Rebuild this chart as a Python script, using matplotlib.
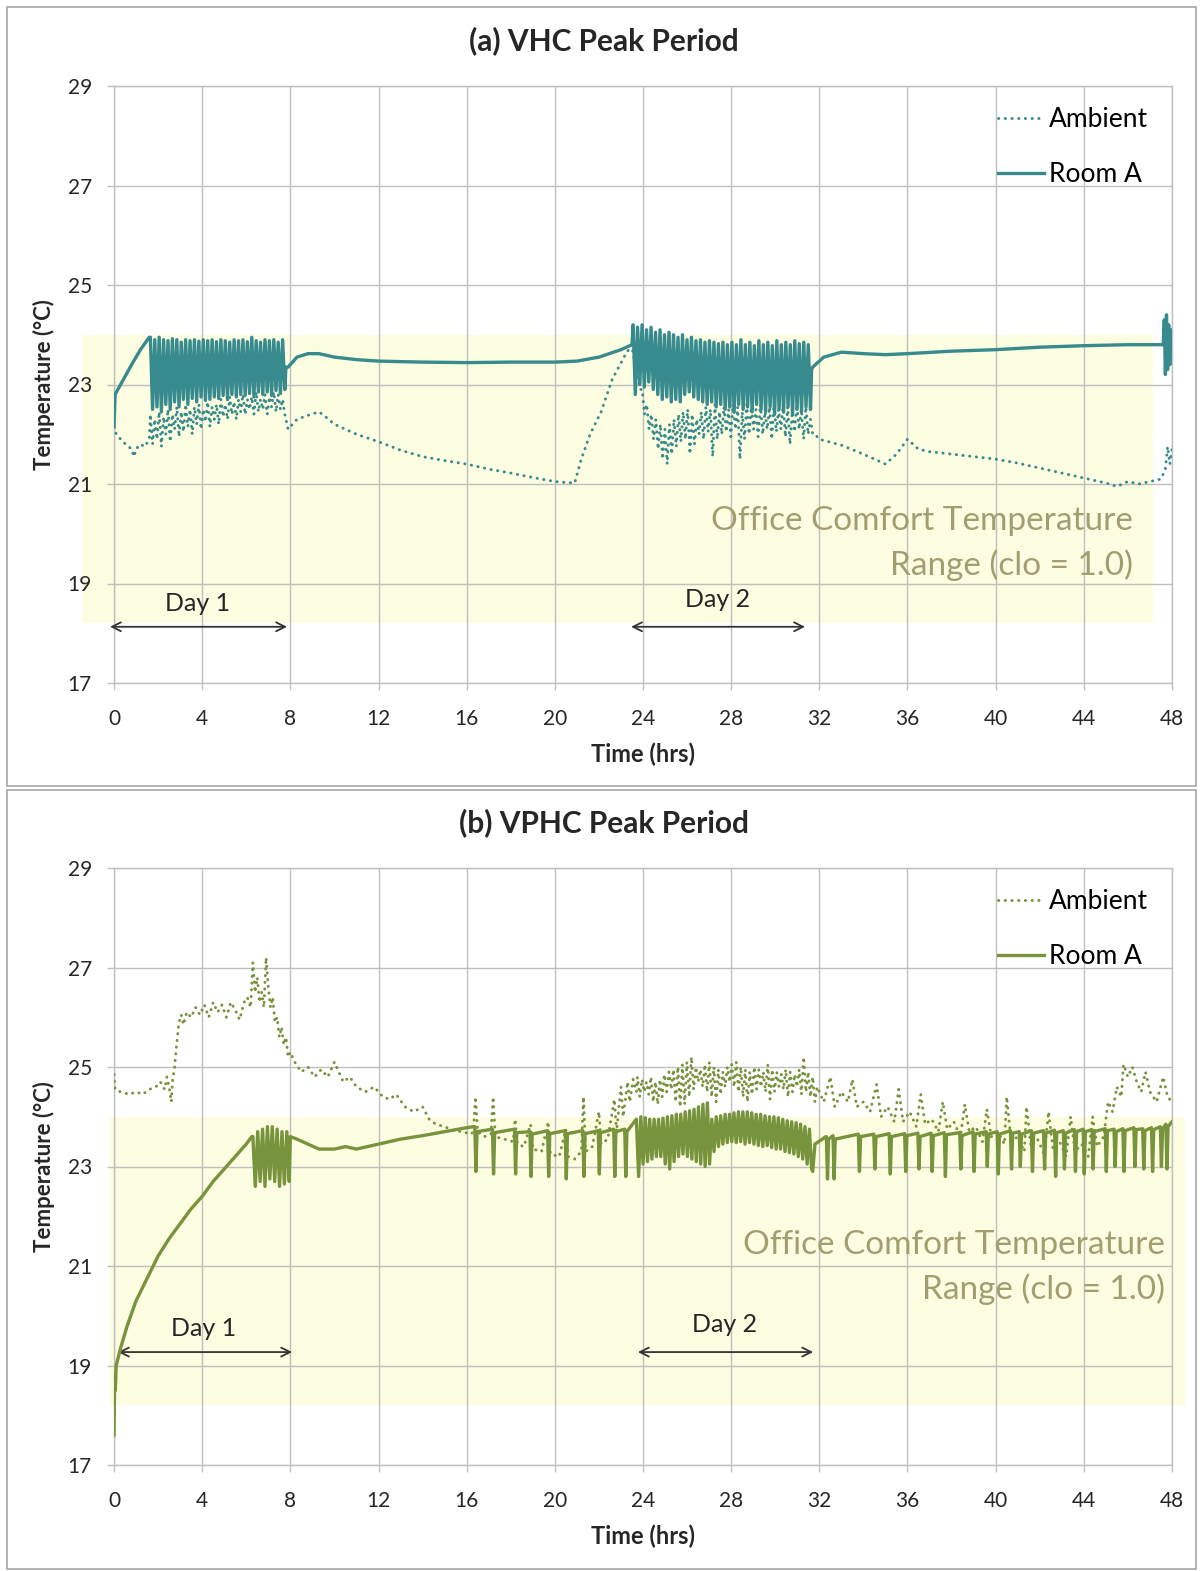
import numpy as np
import matplotlib
matplotlib.use("Agg")
import matplotlib.pyplot as plt
from matplotlib.patches import Rectangle

plt.rcParams['font.family'] = ['Lato', 'DejaVu Sans']

W, H = 1203, 1571

# ---------------- panel (a) VHC ----------------
# room A, smooth parts
room_a_t1 = [0.0, 0.05, 0.3, 0.8, 1.2, 1.6]
room_a_v1 = [22.15, 22.8, 23.0, 23.4, 23.7, 23.95]
# day 1 cycling (highs / lows), 1.65 - 7.75 h
room_a_hi1 = [23.95, 23.9, 23.95, 23.9, 23.88, 23.92, 23.9, 23.85, 23.9, 23.88, 23.9, 23.87, 23.9, 23.88, 23.9, 23.86,
              23.9, 23.88, 23.85, 23.9, 23.88, 23.9, 23.86, 23.95, 23.88, 23.85, 23.9, 23.88, 23.9, 23.85, 23.9]
room_a_lo1 = [22.5, 22.55, 22.45, 22.6, 22.5, 22.65, 22.55, 22.7, 22.6, 22.72, 22.65, 22.75, 22.68, 22.7, 22.75, 22.72,
              22.78, 22.7, 22.8, 22.75, 22.8, 22.78, 22.82, 22.75, 22.85, 22.8, 22.85, 22.78, 22.88, 22.82, 22.9]
room_a_t2 = [7.8, 7.9, 8.3, 8.8, 9.3, 10, 11, 12, 14, 16, 18, 20, 21, 22, 23, 23.5]
room_a_v2 = [23.35, 23.35, 23.55, 23.62, 23.62, 23.55, 23.5, 23.47, 23.45, 23.44, 23.45, 23.45, 23.47, 23.55, 23.7, 23.8]
# day 2 cycling, 23.55 - 31.6 h
room_a_hi2 = [24.2, 24.15, 24.2, 24.1, 24.15, 24.05, 24.1, 24.0, 24.05, 24.0, 23.95, 24.0, 23.9, 23.95, 23.88, 23.9,
              23.85, 23.88, 23.85, 23.82, 23.85, 23.8, 23.85, 23.8, 23.9, 23.8, 23.85, 23.78, 23.88, 23.8, 23.85, 23.78,
              23.88, 23.8, 23.85, 23.8, 23.88, 23.82, 23.85, 23.8]
room_a_lo2 = [22.8, 23.0, 22.95, 23.05, 22.9, 22.8, 22.7, 22.75, 22.65, 22.7, 22.65, 22.8, 22.85, 22.75, 22.7, 22.65,
              22.6, 22.65, 22.55, 22.6, 22.5, 22.55, 22.45, 22.6, 22.5, 22.55, 22.45, 22.6, 22.5, 22.45, 22.55, 22.4,
              22.5, 22.45, 22.55, 22.4, 22.5, 22.45, 22.55, 22.5]
room_a_t3 = [31.65, 31.7, 32.2, 33, 34, 35, 36, 38, 40, 42, 44, 46, 47.6, 47.65, 47.7, 47.75, 47.8, 47.85, 47.9, 47.95, 48.0]
room_a_v3 = [23.3, 23.35, 23.55, 23.65, 23.62, 23.6, 23.62, 23.67, 23.7, 23.75, 23.78, 23.8, 23.8,
             24.3, 23.2, 24.4, 23.3, 24.2, 23.4, 24.1, 23.8]

# ambient
amb_a_t1 = [0.0, 0.1, 0.4, 0.8, 0.9, 1.0, 1.2, 1.4, 1.6]
amb_a_v1 = [22.15, 22.0, 21.85, 21.7, 21.55, 21.7, 21.8, 21.75, 21.9]
amb_a_hi1 = [22.4, 22.3, 22.45, 22.35, 22.5, 22.4, 22.55, 22.45, 22.6, 22.5, 22.55, 22.6, 22.5, 22.65, 22.55, 22.6,
             22.7, 22.6, 22.75, 22.65, 22.7, 22.8, 22.7, 22.75, 22.85, 22.7, 22.8, 22.75, 22.85, 22.8, 22.7]
amb_a_lo1 = [21.8, 21.9, 21.75, 22.0, 21.85, 22.1, 21.95, 22.05, 22.15, 22.0, 22.2, 22.1, 22.25, 22.15, 22.3, 22.2,
             22.35, 22.3, 22.4, 22.3, 22.45, 22.4, 22.5, 22.4, 22.45, 22.5, 22.4, 22.55, 22.45, 22.5, 22.4]
amb_a_t2 = [7.8, 7.9, 8.3, 8.8, 9.3, 9.6, 10.0, 10.5, 11.0, 12.0, 13.0, 14.0, 15.0, 16.0, 17.0, 18.0, 19.0, 20.0,
            20.5, 20.9, 21.2, 21.6, 22.1, 22.6, 23.2, 23.5]
amb_a_v2 = [22.3, 22.1, 22.3, 22.38, 22.45, 22.35, 22.2, 22.1, 22.0, 21.85, 21.68, 21.55, 21.47, 21.4, 21.3, 21.22,
            21.13, 21.05, 21.03, 21.02, 21.5, 22.0, 22.45, 23.1, 23.6, 23.8]
amb_a_hi2 = [23.6, 23.2, 22.9, 22.6, 22.4, 22.3, 22.2, 22.1, 22.2, 22.3, 22.4, 22.45, 22.5, 22.4, 22.3, 22.45,
             22.55, 22.5, 22.6, 22.45, 22.55, 22.5, 22.6, 22.55, 22.45, 22.6, 22.55, 22.5, 22.6, 22.45, 22.55, 22.6,
             22.5, 22.6, 22.55, 22.45, 22.6, 22.5, 22.55, 22.3]
amb_a_lo2 = [23.4, 22.9, 22.4, 22.1, 21.9, 21.7, 21.5, 21.4, 21.6, 21.75, 21.85, 21.9, 21.6, 21.8, 22.0, 21.9,
             22.05, 21.55, 21.9, 22.0, 22.05, 21.95, 22.1, 21.5, 21.9, 22.0, 22.1, 21.95, 22.0, 22.1, 21.9, 22.05,
             22.1, 21.95, 21.8, 22.05, 22.1, 21.9, 22.0, 22.0]
amb_a_t3 = [31.8, 32.0, 33.0, 34.0, 35.0, 35.5, 36.0, 36.5, 37.0, 38.0, 39.0, 40.0, 41.0, 42.0, 43.0, 44.0, 45.0,
            45.5, 46.0, 46.5, 47.0, 47.5, 47.7, 47.8, 47.9, 48.0]
amb_a_v3 = [22.0, 21.9, 21.78, 21.6, 21.4, 21.6, 21.9, 21.7, 21.65, 21.6, 21.55, 21.5, 21.42, 21.32, 21.22, 21.12,
            21.02, 20.95, 21.05, 21.0, 21.05, 21.1, 21.3, 21.75, 21.4, 21.7]

# ---------------- panel (b) VPHC ----------------
room_b_t1 = [0.0, 0.03, 0.06, 0.1, 0.3, 0.6, 1.0, 1.5, 2.0, 2.5, 3.0, 3.5, 4.0, 4.5, 5.0, 5.5, 6.0, 6.25]
room_b_v1 = [17.6, 18.8, 18.5, 19.0, 19.35, 19.8, 20.3, 20.75, 21.2, 21.55, 21.85, 22.15, 22.4, 22.7, 22.95, 23.2,
             23.45, 23.6]
room_b_hi1 = [23.6, 23.7, 23.75, 23.8, 23.8, 23.75, 23.7, 23.7]
room_b_lo1 = [22.6, 22.7, 22.6, 22.75, 22.7, 22.6, 22.65, 22.7]
room_b_t2 = [8.0, 8.3, 8.8, 9.3, 10.0, 10.5, 11.0, 12.0, 13.0, 14.0, 15.0, 16.0, 16.3]
room_b_v2 = [23.6, 23.55, 23.45, 23.35, 23.35, 23.4, 23.35, 23.45, 23.55, 23.62, 23.7, 23.78, 23.8]
# set-back spikes before day 2
spike_b1_t = [16.4, 17.2, 18.2, 18.9, 19.7, 20.5, 21.3, 22.0, 22.7, 23.2]
spike_b1_top = [23.8, 23.75, 23.75, 23.7, 23.72, 23.72, 23.72, 23.72, 23.75, 23.75]
spike_b1_min = [22.9, 22.85, 22.85, 22.8, 22.8, 22.75, 22.8, 22.85, 22.8, 22.8]
spike_b1_rec = [23.7, 23.68, 23.68, 23.65, 23.66, 23.66, 23.66, 23.68, 23.7, 23.7]
# day 2 cycling, 23.7 - 31.7 h
room_b_hi2 = [23.95, 24.0, 23.98, 23.95, 23.95, 23.95, 23.97, 24.0, 24.02, 24.05, 24.05, 24.1, 24.12, 24.15, 24.2,
              24.25, 24.28, 23.95, 24.0, 24.02, 24.05, 24.05, 24.08, 24.1, 24.1, 24.1, 24.08, 24.05, 24.05, 24.02,
              24.0, 24.0, 23.98, 23.95, 23.92, 23.9, 23.88, 23.85, 23.8, 23.75]
room_b_lo2 = [22.8, 23.05, 23.1, 23.15, 23.2, 23.2, 23.05, 22.95, 23.1, 23.2, 23.25, 23.2, 23.15, 23.1, 23.05, 23.0,
              23.05, 23.3, 23.4, 23.45, 23.48, 23.5, 23.48, 23.5, 23.45, 23.48, 23.45, 23.42, 23.4, 23.42, 23.38,
              23.35, 23.35, 23.3, 23.28, 23.25, 23.2, 23.15, 23.05, 22.95]
# spikes after day 2
spike_b2_t = [32.35, 32.65, 33.8, 34.5, 35.2, 35.9, 36.5, 37.1, 37.7, 38.4, 39.0, 39.6, 40.1, 40.7, 41.1, 41.65,
              42.2, 42.7, 43.1, 43.6, 44.0, 44.4, 45.0, 45.4, 45.8, 46.3, 46.7, 47.1, 47.5, 47.75]
spike_b2_top = [23.6, 23.62, 23.65, 23.65, 23.66, 23.66, 23.67, 23.67, 23.68, 23.68, 23.7, 23.7, 23.7, 23.72,
                23.7, 23.72, 23.72, 23.73, 23.72, 23.74, 23.75, 23.74, 23.76, 23.75, 23.76, 23.78, 23.76, 23.78,
                23.8, 23.85]
spike_b2_min = [22.75, 22.75, 22.9, 22.95, 22.85, 22.9, 22.95, 22.9, 22.8, 22.95, 22.9, 23.0, 22.85, 22.95, 23.0,
                22.9, 22.95, 22.8, 22.95, 22.9, 22.85, 22.95, 22.9, 23.0, 22.9, 23.0, 22.95, 22.9, 23.0, 22.95]
spike_b2_rec = [23.55, 23.55, 23.6, 23.6, 23.6, 23.62, 23.6, 23.62, 23.64, 23.62, 23.65, 23.65, 23.65, 23.67,
                23.65, 23.67, 23.67, 23.68, 23.67, 23.7, 23.7, 23.7, 23.72, 23.7, 23.72, 23.74, 23.72, 23.74,
                23.75, 23.8]
room_b_end_t = [31.7, 31.8, 32.3, 48.0]
room_b_end_v = [22.9, 23.45, 23.6, 23.9]

amb_b_t1 = [0.0, 0.05, 0.3, 0.7, 1.0, 1.3, 1.6, 1.9, 2.1, 2.3, 2.4, 2.5, 2.6, 2.65, 2.75, 2.85, 2.95, 3.05, 3.15,
            3.3, 3.5, 3.7, 3.9, 4.1, 4.3, 4.5, 4.7, 4.9, 5.1, 5.3, 5.5, 5.7, 5.9, 6.05, 6.2, 6.3, 6.4, 6.5, 6.6,
            6.7, 6.8, 6.9, 7.0, 7.1, 7.2, 7.3, 7.4, 7.5, 7.6, 7.7, 7.8, 7.9, 8.0, 8.2, 8.5, 8.8, 9.1, 9.4, 9.7,
            10.0, 10.2, 10.4, 10.7, 11.0, 11.4, 11.8, 12.2, 12.5, 12.8, 13.2, 13.6, 14.0, 14.3, 14.6, 15.0, 15.4,
            15.8, 16.2]
amb_b_v1 = [24.85, 24.55, 24.5, 24.45, 24.5, 24.45, 24.55, 24.6, 24.7, 24.55, 24.8, 24.6, 24.3, 24.7, 25.0, 25.5,
            25.9, 26.05, 25.85, 26.1, 26.0, 26.2, 26.05, 26.25, 26.0, 26.3, 26.1, 26.25, 26.0, 26.3, 26.15, 25.95,
            26.3, 26.4, 26.2, 27.1, 26.5, 26.8, 26.3, 26.5, 26.2, 27.2, 26.6, 26.2, 26.4, 25.9, 26.0, 25.6, 25.8,
            25.45, 25.6, 25.2, 25.3, 25.1, 24.9, 25.0, 24.8, 24.95, 24.8, 25.1, 24.9, 24.7, 24.8, 24.6, 24.5, 24.6,
            24.4, 24.35, 24.45, 24.2, 24.1, 24.2, 23.95, 23.85, 23.8, 23.72, 23.7, 23.65]
amb_b_t2 = [16.3, 16.4, 16.5, 16.8, 17.1, 17.2, 17.3, 17.7, 18.1, 18.2, 18.3, 18.6, 18.9, 19.0, 19.4, 19.7, 19.8,
            20.2, 20.5, 20.6, 20.9, 21.2, 21.3, 21.4, 21.7, 22.0, 22.1, 22.4, 22.7, 22.8, 23.0, 23.1, 23.3, 23.4,
            23.55, 23.7]
amb_b_v2 = [23.7, 24.4, 23.7, 23.6, 23.65, 24.4, 23.6, 23.55, 23.5, 23.95, 23.45, 23.4, 23.85, 23.35, 23.3, 23.9,
            23.25, 23.2, 23.75, 23.2, 23.15, 23.3, 24.4, 23.3, 23.4, 24.1, 23.45, 23.55, 24.35, 23.7, 24.6, 24.0,
            24.7, 24.3, 24.75, 24.5]
amb_b_hi2 = [24.8, 24.75, 24.7, 24.8, 24.7, 24.75, 24.85, 24.9, 24.95, 25.0, 25.05, 25.1, 25.2, 25.0, 24.95, 25.05,
             25.1, 25.0, 24.95, 24.9, 25.0, 25.05, 25.1, 25.0, 24.95, 24.9, 25.0, 24.95, 24.9, 25.05, 24.95, 24.9,
             24.85, 24.95, 24.9, 24.85, 24.95, 25.2, 24.9, 24.8]
amb_b_lo2 = [24.4, 24.5, 24.45, 24.3, 24.25, 24.4, 24.5, 24.55, 24.3, 24.2, 24.25, 24.4, 24.55, 24.7, 24.6, 24.5,
             24.4, 24.3, 24.45, 24.6, 24.7, 24.6, 24.5, 24.4, 24.3, 24.45, 24.55, 24.6, 24.5, 24.35, 24.5, 24.6,
             24.55, 24.4, 24.5, 24.6, 24.45, 24.5, 24.4, 24.3]
amb_b_t3 = [31.9, 32.2, 32.5, 32.7, 33.0, 33.3, 33.5, 33.7, 34.0, 34.3, 34.6, 34.8, 35.1, 35.4, 35.6, 35.8, 36.1,
            36.4, 36.6, 36.8, 37.1, 37.4, 37.6, 37.8, 38.1, 38.4, 38.6, 38.8, 39.1, 39.4, 39.6, 39.8, 40.1, 40.4,
            40.5, 40.7, 41.0, 41.3, 41.4, 41.6, 41.9, 42.2, 42.4, 42.6, 42.9, 43.2, 43.4, 43.6, 43.9, 44.2, 44.4,
            44.6, 44.9, 45.1, 45.3, 45.5, 45.7, 45.8, 46.0, 46.2, 46.4, 46.6, 46.8, 47.0, 47.3, 47.6, 47.8, 48.0]
amb_b_v3 = [24.6, 24.3, 24.8, 24.2, 24.5, 24.3, 24.75, 24.2, 24.3, 24.1, 24.65, 24.0, 24.2, 23.9, 24.55, 23.9, 24.1,
            23.8, 24.45, 23.85, 23.95, 23.7, 24.3, 23.75, 23.9, 23.6, 24.25, 23.7, 23.8, 23.5, 24.15, 23.6, 23.7,
            23.45, 24.4, 23.5, 23.6, 23.3, 24.2, 23.4, 23.55, 23.25, 24.1, 23.35, 23.5, 23.2, 24.0, 23.3, 23.45,
            23.2, 24.0, 23.4, 23.6, 24.3, 24.1, 24.6, 24.4, 25.05, 24.8, 25.0, 24.7, 24.5, 24.9, 24.5, 24.3, 24.8,
            24.4, 24.3]

comfort_low, comfort_high = 18.2, 24.0
x_ticks = list(range(0, 49, 4))
y_ticks = list(range(17, 30, 2))


def zigzag(t0, t1, hi, lo):
    vals = np.column_stack([hi, lo]).ravel()
    return np.linspace(t0, t1, len(vals)), vals


def spikes(times, tops, mins, recs):
    t, v = [], []
    for s, a, b, c in zip(times, tops, mins, recs):
        t += [s - 0.03, s + 0.02, s + 0.07]
        v += [a, b, c]
    return t, v


# assemble series
za1 = zigzag(1.65, 7.75, room_a_hi1, room_a_lo1)
za2 = zigzag(23.55, 31.6, room_a_hi2, room_a_lo2)
room_a_t = np.concatenate([room_a_t1, za1[0], room_a_t2, za2[0], room_a_t3])
room_a_v = np.concatenate([room_a_v1, za1[1], room_a_v2, za2[1], room_a_v3])
ya1 = zigzag(1.65, 7.75, amb_a_hi1, amb_a_lo1)
ya2 = zigzag(23.55, 31.7, amb_a_hi2, amb_a_lo2)
amb_a_t = np.concatenate([amb_a_t1, ya1[0], amb_a_t2, ya2[0], amb_a_t3])
amb_a_v = np.concatenate([amb_a_v1, ya1[1], amb_a_v2, ya2[1], amb_a_v3])

zb1 = zigzag(6.3, 7.95, room_b_hi1, room_b_lo1)
sb1 = spikes(spike_b1_t, spike_b1_top, spike_b1_min, spike_b1_rec)
zb2 = zigzag(23.7, 31.65, room_b_hi2, room_b_lo2)
sb2 = spikes(spike_b2_t, spike_b2_top, spike_b2_min, spike_b2_rec)
room_b_t = np.concatenate([room_b_t1, zb1[0], room_b_t2, sb1[0], zb2[0], room_b_end_t[:3], sb2[0], room_b_end_t[3:]])
room_b_v = np.concatenate([room_b_v1, zb1[1], room_b_v2, sb1[1], zb2[1], room_b_end_v[:3], sb2[1], room_b_end_v[3:]])
yb2 = zigzag(23.75, 31.8, amb_b_hi2, amb_b_lo2)
amb_b_t = np.concatenate([amb_b_t1, amb_b_t2, yb2[0], amb_b_t3])
amb_b_v = np.concatenate([amb_b_v1, amb_b_v2, yb2[1], amb_b_v3])

fig = plt.figure(figsize=(W / 100, H / 100), dpi=100)

# panel frames
for y0, y1 in [(7, 786), (790, 1569)]:
    fig.patches.append(Rectangle((7 / W, 1 - y1 / H), 1189 / W, (y1 - y0) / H, transform=fig.transFigure,
                                 fill=False, edgecolor='#A6A6A6', lw=1.2))

panels = [
    dict(top=86, title='(a) VHC Peak Period', ty=41, color='#378B8E',
         room=(room_a_t, room_a_v), amb=(amb_a_t, amb_a_v), shade=(-1.45, 47.15),
         office=(46.23, 20.26, 19.37),
         days=[('Day 1', -0.18, 7.85, 18.13, 3.77, 18.6), ('Day 2', 23.46, 31.35, 18.13, 27.4, 18.67)]),
    dict(top=868, title='(b) VPHC Peak Period', ty=823, color='#77933C',
         room=(room_b_t, room_b_v), amb=(amb_b_t, amb_b_v), shade=(-0.2, 48.6),
         office=(47.69, 21.42, 20.53),
         days=[('Day 1', 0.18, 8.08, 19.27, 4.08, 19.75), ('Day 2', 23.77, 31.72, 19.27, 27.68, 19.83)]),
]

for p in panels:
    ax = fig.add_axes([114 / W, 1 - (p['top'] + 597) / H, 1058 / W, 597 / H])
    ax.set_xlim(0, 48)
    ax.set_ylim(17, 29)
    ax.set_xticks(x_ticks)
    ax.set_yticks(y_ticks)
    ax.set_axisbelow(True)
    ax.grid(True, color='#BFBFBF', lw=1)
    for s in ax.spines.values():
        s.set_color('#BFBFBF')
        s.set_linewidth(1)
    ax.tick_params(axis='both', colors='#BFBFBF', length=5, width=1, labelsize=15, labelcolor='#262626')
    ax.tick_params(axis='x', pad=14)
    ax.tick_params(axis='y', pad=11)

    x0, x1 = p['shade']
    ax.add_patch(Rectangle((x0, comfort_low), x1 - x0, comfort_high - comfort_low, facecolor='#FDFDE1',
                           edgecolor='none', clip_on=False, zorder=0.2))

    ax.plot(p['amb'][0], p['amb'][1], color=p['color'], lw=2.1, linestyle=(0, (0.1, 2.2)),
            dash_capstyle='round', label='Ambient', zorder=3)
    ax.plot(p['room'][0], p['room'][1], color=p['color'], lw=2.4, label='Room A', zorder=4)

    ax.set_xlabel('Time (hrs)', fontsize=17, fontweight='bold', color='#262626')
    ax.xaxis.set_label_coords(0.5, -0.1)
    ax.set_ylabel('Temperature (°C)', fontsize=16, fontweight='bold', color='#262626')
    ax.yaxis.set_label_coords(-0.056, 0.5)

    ax.legend(loc='upper right', bbox_to_anchor=(0.99, 0.987), frameon=False, fontsize=19,
              handlelength=1.75, handletextpad=0.2, labelspacing=1.15, borderpad=0)

    ox, oy1, oy2 = p['office']
    ax.text(ox, oy1, 'Office Comfort Temperature', ha='right', va='center', fontsize=24, color='#A39E72')
    ax.text(ox, oy2, 'Range (clo = 1.0)', ha='right', va='center', fontsize=24, color='#A39E72')

    for label, xa, xb, ya, xt, yt in p['days']:
        ax.annotate('', xy=(xb, ya), xytext=(xa, ya), annotation_clip=False,
                    arrowprops=dict(arrowstyle='<->', color='#333333', lw=1.3, mutation_scale=16,
                                    shrinkA=0, shrinkB=0))
        ax.text(xt, yt, label, ha='center', va='center', fontsize=18, color='#262626')

    fig.text(604 / W, 1 - p['ty'] / H, p['title'], ha='center', va='center', fontsize=21.5,
             fontweight='bold', color='#262626')

fig.savefig('out.png', dpi=100)
